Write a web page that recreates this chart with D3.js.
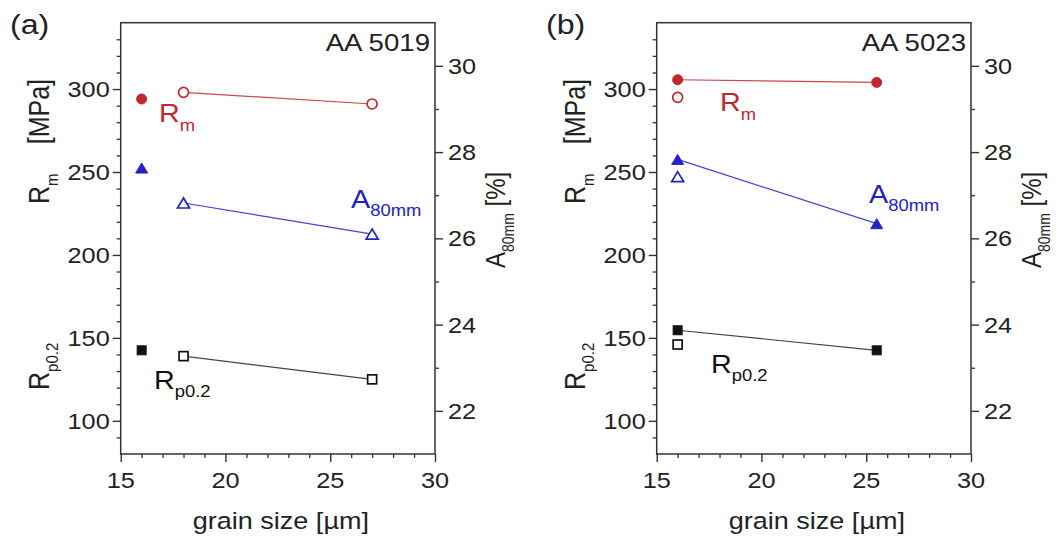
<!DOCTYPE html>
<html><head><meta charset="utf-8">
<script src="https://cdn.jsdelivr.net/npm/d3@7"></script>
<style>
html,body{margin:0;padding:0;background:#fff;}
svg{display:block;font-family:"Liberation Sans",Arial,sans-serif;}
</style></head><body>
<svg id="chart" width="1062" height="542"></svg>
<script>
// ---- shared axes ----
const xDomain = [15, 30];
const leftDomain = [80, 340];
const rightDomain = [21, 31];
const xTicks = [15, 20, 25, 30];
const leftTicks = [100, 150, 200, 250, 300];
const rightTicks = [22, 24, 26, 28, 30];

// ---- panel (a) AA 5019 : open symbols connected, filled = single point ----
const aLineGrain = [18, 27];
const aLineRm = [298, 291];
const aLineA80 = [26.82, 26.1];
const aLineRp = [139, 125];
const aPtGrain = [16];
const aPtRm = [294];
const aPtA80 = [27.63];
const aPtRp = [142.5];

// ---- panel (b) AA 5023 : filled symbols connected, open = single point ----
const bLineGrain = [16, 25.5];
const bLineRm = [305.6, 304];
const bLineA80 = [27.83, 26.34];
const bLineRp = [154.6, 142.5];
const bPtGrain = [16];
const bPtRm = [295];
const bPtA80 = [27.43];
const bPtRp = [146];

const SX = 1.15; // horizontal text stretch seen in the reference
const svg = d3.select("#chart");
const RED = "#c4262e", BLUE = "#2222c8", BLACK = "#111";
const AX = "#333";

function txt(g, x, y, parts, o = {}) {
  const rot = o.rotate || 0;
  const t = g.append("text")
    .attr("transform", `translate(${x},${y}) scale(${SX},1)` + (rot ? ` rotate(${rot})` : ""))
    .attr("font-size", o.size || 22)
    .attr("fill", o.color || "#222")
    .attr("text-anchor", o.anchor || "start");
  parts.forEach(p => {
    const s = t.append("tspan").text(p.t);
    if (p.sub) s.attr("font-size", o.subSize || 13).attr("dy", p.dy != null ? p.dy : 7);
    if (p.back) s.attr("dy", p.back);
  });
  return t;
}

function tri(w, h) { return `M0,${-h/2}L${w/2},${h/2}L${-w/2},${h/2}Z`; }

function panel(cfg) {
  const L = cfg.ox + 120.7, R = L + 314.3, T = 22.7, B = 454;
  const x = d3.scaleLinear(xDomain, [L, R]);
  const yL = d3.scaleLinear(leftDomain, [B, T]);
  const yR = d3.scaleLinear(rightDomain, [B, T]);
  const g = svg.append("g");

  const tickStyle = w => sel => { sel.select(".domain").remove(); sel.selectAll("line").attr("stroke", AX).attr("stroke-width", w); sel.selectAll("text").remove(); };
  // minor ticks
  g.append("g").attr("transform", `translate(${L},0)`).call(d3.axisLeft(yL).tickValues(d3.range(90, 340, 10).filter(v => v % 50)).tickSize(4)).call(tickStyle(1.3));
  g.append("g").attr("transform", `translate(0,${B})`).call(d3.axisBottom(x).tickValues(d3.range(16, 30, 1).filter(v => v % 5)).tickSize(4)).call(tickStyle(1.3));
  g.append("g").attr("transform", `translate(${R},0)`).call(d3.axisRight(yR).tickValues([23, 25, 27, 29]).tickSize(4)).call(tickStyle(1.3));
  // major ticks
  g.append("g").attr("transform", `translate(${L},0)`).call(d3.axisLeft(yL).tickValues(leftTicks).tickSize(8)).call(tickStyle(1.4));
  g.append("g").attr("transform", `translate(0,${B})`).call(d3.axisBottom(x).tickValues(xTicks).tickSize(8)).call(tickStyle(1.4));
  g.append("g").attr("transform", `translate(${R},0)`).call(d3.axisRight(yR).tickValues(rightTicks).tickSize(8)).call(tickStyle(1.4));
  // frame
  g.append("rect").attr("x", L).attr("y", T).attr("width", R - L).attr("height", B - T)
    .attr("fill", "none").attr("stroke", AX).attr("stroke-width", 1.5);

  // tick labels
  leftTicks.forEach(v => txt(g, L - 11, yL(v) + 8, [{ t: v }], { anchor: "end" }));
  rightTicks.forEach(v => txt(g, R + 13, yR(v) + 8, [{ t: v }]));
  xTicks.forEach(v => txt(g, x(v), 488, [{ t: v }], { anchor: "middle" }));

  // axis titles
  txt(g, (L + R) / 2 + 3, 529, [{ t: "grain size [µm]" }], { size: 23.5, anchor: "middle" });
  txt(g, cfg.ox + 49, 204, [{ t: "R" }, { t: "m", sub: true, dy: 8 }], { size: 25, rotate: -90, subSize: 15 });
  txt(g, cfg.ox + 49, 79, [{ t: "[MPa]" }], { size: 25, rotate: -90, anchor: "end" });
  txt(g, cfg.ox + 49, 390, [{ t: "R" }, { t: "p0.2", sub: true, dy: 8 }], { size: 25, rotate: -90, subSize: 15 });
  txt(g, R + 70, 268, [{ t: "A" }, { t: "80mm", sub: true, dy: 8 }, { t: " [%]", back: -8 }], { size: 24, rotate: -90, subSize: 14 });

  // panel tag + alloy
  txt(g, cfg.ox + 10, 34, [{ t: cfg.tag }], { size: 28 });
  txt(g, R - 5, 51, [{ t: cfg.alloy }], { size: 24, anchor: "end" });

  // series
  const series = [
    { vl: cfg.lineRm, vp: cfg.ptRm, y: yL, c: RED, shape: "circle" },
    { vl: cfg.lineA80, vp: cfg.ptA80, y: yR, c: BLUE, shape: "tri" },
    { vl: cfg.lineRp, vp: cfg.ptRp, y: yL, c: BLACK, shape: "square" }
  ];
  const mark = (sel, s, filled) => {
    let m;
    if (s.shape === "circle") m = sel.append("circle").attr("r", 5);
    else if (s.shape === "tri") m = sel.append("path").attr("d", tri(12, 10));
    else m = sel.append("rect").attr("x", -4.5).attr("y", -4.5).attr("width", 9).attr("height", 9);
    m.attr("fill", filled ? s.c : "#fff").attr("stroke", s.c).attr("stroke-width", filled ? 1 : 1.7);
  };
  series.forEach(s => {
    const pts = cfg.lineGrain.map((gv, i) => [x(gv), s.y(s.vl[i])]);
    g.append("path").attr("d", d3.line()(pts)).attr("fill", "none")
      .attr("stroke", s.c === BLACK ? "#222" : s.c).attr("stroke-width", 1.2).attr("opacity", 0.85);
    pts.forEach(p => mark(g.append("g").attr("transform", `translate(${p[0]},${p[1]})`), s, cfg.lineFilled));
    cfg.ptGrain.forEach((gv, i) => mark(g.append("g").attr("transform", `translate(${x(gv)},${s.y(s.vp[i])})`), s, !cfg.lineFilled));
  });

  // in-plot labels
  const lb = cfg.labels;
  txt(g, lb.rm[0], lb.rm[1], [{ t: "R" }, { t: "m", sub: true, dy: 9 }], { color: RED, size: 25, subSize: 16 });
  txt(g, lb.a80[0], lb.a80[1], [{ t: "A" }, { t: "80mm", sub: true, dy: 8 }], { color: BLUE, size: 25, subSize: 16 });
  txt(g, lb.rp[0], lb.rp[1], [{ t: "R" }, { t: "p0.2", sub: true, dy: 8 }], { color: BLACK, size: 25, subSize: 16 });
}

panel({ ox: 0, tag: "(a)", alloy: "AA 5019", lineFilled: false,
  lineGrain: aLineGrain, lineRm: aLineRm, lineA80: aLineA80, lineRp: aLineRp,
  ptGrain: aPtGrain, ptRm: aPtRm, ptA80: aPtA80, ptRp: aPtRp,
  labels: { rm: [159, 122], a80: [351, 208], rp: [154, 389] } });
panel({ ox: 536, tag: "(b)", alloy: "AA 5023", lineFilled: true,
  lineGrain: bLineGrain, lineRm: bLineRm, lineA80: bLineA80, lineRp: bLineRp,
  ptGrain: bPtGrain, ptRm: bPtRm, ptA80: bPtA80, ptRp: bPtRp,
  labels: { rm: [720, 111], a80: [869, 203], rp: [711, 373] } });
</script>
</body></html>
